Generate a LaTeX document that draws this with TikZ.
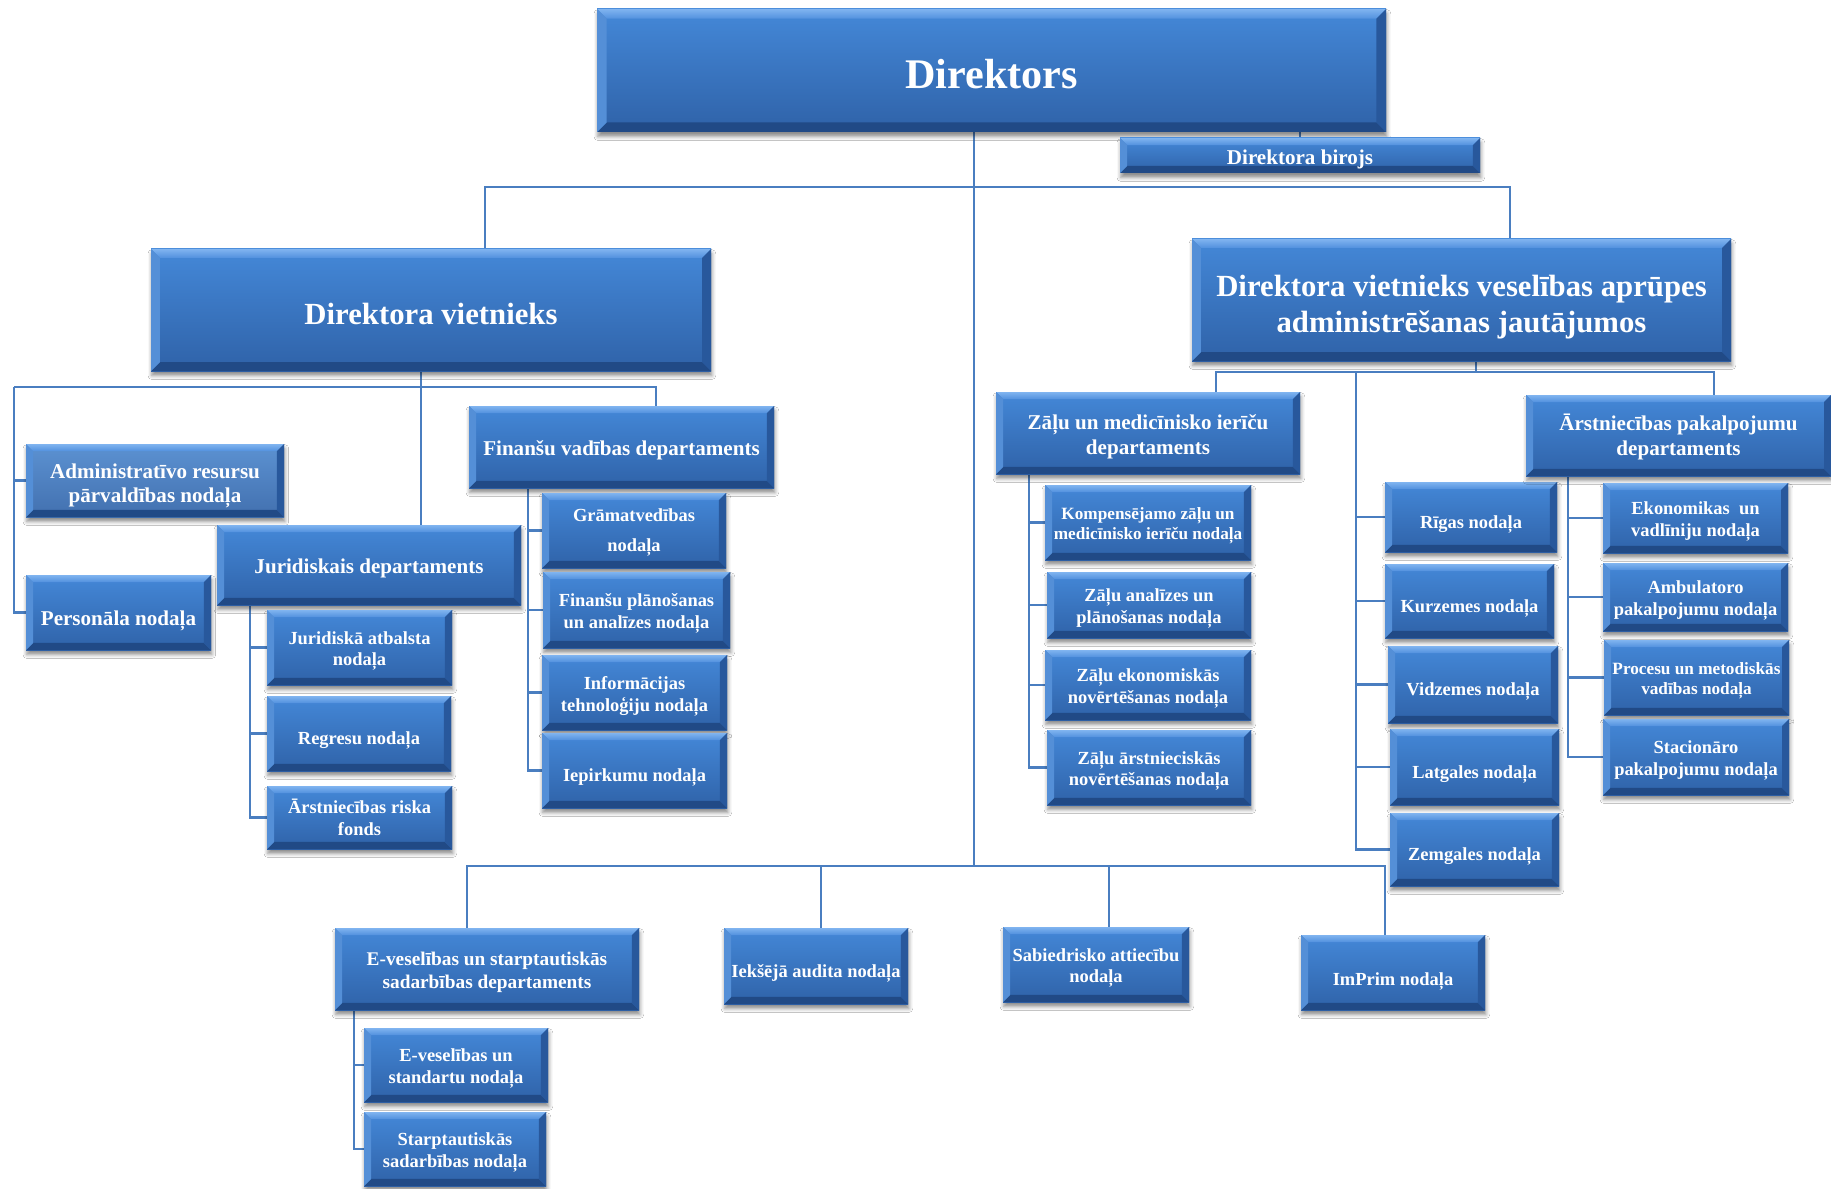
\documentclass[tikz,border=0pt]{standalone}
\usepackage{fontspec}
\setmainfont{Liberation Serif}
\usetikzlibrary{shadows.blur,backgrounds}
\definecolor{bxT}{RGB}{68,136,216}
\definecolor{bxB}{RGB}{47,98,168}
\definecolor{bxLT}{RGB}{92,146,210}
\definecolor{bxLB}{RGB}{66,112,175}
\definecolor{bvT1}{RGB}{128,180,240}
\definecolor{bvT2}{RGB}{82,145,222}
\definecolor{bvL}{RGB}{84,143,215}
\definecolor{bvR}{RGB}{40,88,156}
\definecolor{bvB}{RGB}{33,74,134}
\definecolor{ln}{RGB}{74,126,192}
\def\bw{4pt}
\newcommand\bevl[1]{%
  \shade[top color=bvT1,bottom color=bvT2] (#1.north west) -- (#1.north east) -- ([xshift=-\bw,yshift=-\bw]#1.north east) -- ([xshift=\bw,yshift=-\bw]#1.north west) -- cycle;
  \fill[bvB] (#1.south west) -- (#1.south east) -- ([xshift=-\bw,yshift=\bw]#1.south east) -- ([xshift=\bw,yshift=\bw]#1.south west) -- cycle;
  \fill[bvL] (#1.north west) -- (#1.south west) -- ([xshift=\bw,yshift=\bw]#1.south west) -- ([xshift=\bw,yshift=-\bw]#1.north west) -- cycle;
  \fill[bvR] (#1.north east) -- (#1.south east) -- ([xshift=-\bw,yshift=\bw]#1.south east) -- ([xshift=-\bw,yshift=-\bw]#1.north east) -- cycle;
}
% name x1 y1 x2 y2 boxopts textopts text
\newcommand\bxn[8]{%
  \node[bx,#6,minimum width={(#4-#2)*0.02cm},minimum height={(#5-#3)*0.02cm}] (#1) at ({(#2+#4)/2},{(#3+#5)/2}) {};
  \bevl{#1}
  \node[txt,#7] (#1-t) at (#1.center) {#8};}
\tikzset{
  bx/.style={rectangle,draw=none,top color=bxT,bottom color=bxB,inner sep=0pt,outer sep=0pt,
    blur shadow={shadow xshift=0.5pt,shadow yshift=-2.6pt,shadow blur radius=2.2pt,shadow opacity=45}},
  lite/.style={top color=bxLT,bottom color=bxLB},
  txt/.style={text=white,align=center,inner sep=0pt,yshift=-2pt},
  lo/.style={yshift=-2pt},
  fA/.style={font=\fontsize{24}{29}\selectfont\bfseries},
  fB/.style={font=\fontsize{17.5}{20.5}\selectfont\bfseries},
  fC/.style={font=\fontsize{12}{14}\selectfont\bfseries},
  fD/.style={font=\fontsize{10.5}{12.4}\selectfont\bfseries},
  fE/.style={font=\fontsize{9.8}{11.6}\selectfont\bfseries},
  fF/.style={font=\fontsize{11}{13}\selectfont\bfseries},
  cn/.style={draw=ln,line width=1.2pt},
}
\begin{document}
\begin{tikzpicture}[x=0.02cm,y=-0.02cm]
\useasboundingbox (0,0) rectangle (1831,1189);
% top
\def\bw{5.5pt}
\bxn{dir}{597}{9}{1386}{132}{}{fA}{Direktors}
\def\bw{4pt}
\bxn{biro}{1120}{138}{1480}{173}{}{fC}{Direktora birojs}
\def\bw{5pt}
\bxn{vl}{151}{249}{711}{371}{}{fB}{Direktora vietnieks}
\bxn{vr}{1192}{239}{1731}{361}{}{fB,lo}{Direktora vietnieks veselības aprūpes\\administrēšanas jautājumos}
\def\bw{4pt}
% left deputy
\bxn{adm}{26}{444}{284}{517}{lite}{fC,yshift=-1pt}{Administratīvo resursu\\pārvaldības nodaļa}
\bxn{pers}{26}{575}{211}{650}{}{fC,lo,yshift=-1pt}{Personāla nodaļa}
\bxn{jur}{217}{525}{521}{605}{}{fC}{Juridiskais departaments}
\bxn{jur1}{267}{610}{452}{685}{}{fD}{Juridiskā atbalsta\\nodaļa}
\bxn{jur2}{267}{696}{451}{771}{}{fD,lo}{Regresu nodaļa}
\bxn{jur3}{267}{786}{452}{849}{}{fD,yshift=2pt}{Ārstniecības riska\\fonds}
\bxn{fin}{469}{406}{774}{488}{}{fC}{Finanšu vadības departaments}
\bxn{fin1}{542}{493}{726}{568}{}{fD,yshift=1pt}{Grāmatvedības\\[4.5pt]nodaļa}
\bxn{fin2}{543}{572}{730}{648}{}{fD}{Finanšu plānošanas\\un analīzes nodaļa}
\bxn{fin3}{542}{655}{727}{730}{}{fD}{Informācijas\\tehnoloģiju nodaļa}
\bxn{fin4}{542}{733}{727}{808}{}{fD,lo}{Iepirkumu nodaļa}
% right deputy
\bxn{zal}{996}{392}{1300}{474}{}{fC}{Zāļu un medicīnisko ierīču\\departaments}
\bxn{zal1}{1045}{485}{1251}{560}{}{fE}{Kompensējamo zāļu un\\medicīnisko ierīču nodaļa}
\bxn{zal2}{1047}{572}{1251}{638}{}{fD}{Zāļu analīzes un\\plānošanas nodaļa}
\bxn{zal3}{1045}{650}{1251}{720}{}{fD}{Zāļu ekonomiskās\\novērtēšanas nodaļa}
\bxn{zal4}{1047}{730}{1251}{805}{}{fD}{Zāļu ārstnieciskās\\novērtēšanas nodaļa}
\bxn{reg1}{1385}{482}{1557}{552}{}{fD,lo}{Rīgas nodaļa}
\bxn{reg2}{1385}{564}{1554}{638}{}{fD,lo}{Kurzemes nodaļa}
\bxn{reg3}{1388}{646}{1558}{723}{}{fD,lo}{Vidzemes nodaļa}
\bxn{reg4}{1390}{729}{1559}{805}{}{fD,lo}{Latgales nodaļa}
\bxn{reg5}{1390}{813}{1559}{886}{}{fD,lo}{Zemgales nodaļa}
\bxn{ars}{1526}{395}{1831}{476}{}{fC,yshift=1pt}{Ārstniecības pakalpojumu\\departaments}
\bxn{ars1}{1603}{483}{1788}{553}{}{fD}{Ekonomikas\ \ un\\vadlīniju nodaļa}
\bxn{ars2}{1603}{563}{1788}{631}{}{fD}{Ambulatoro\\pakalpojumu nodaļa}
\bxn{ars3}{1604}{640}{1789}{715}{}{fE}{Procesu un metodiskās\\vadības nodaļa}
\bxn{ars4}{1603}{719}{1789}{795}{}{fD}{Stacionāro\\pakalpojumu nodaļa}
% bottom
\bxn{ev}{335}{928}{639}{1010}{}{fF}{E-veselības un starptautiskās\\sadarbības departaments}
\bxn{iek}{724}{928}{908}{1004}{}{fD,lo}{Iekšējā audita nodaļa}
\bxn{sab}{1003}{927}{1189}{1002}{}{fD}{Sabiedrisko attiecību\\nodaļa}
\bxn{imp}{1301}{935}{1485}{1010}{}{fD,lo,yshift=-1pt}{ImPrim nodaļa}
\bxn{ev1}{364}{1028}{548}{1102}{}{fD}{E-veselības un\\standartu nodaļa}
\bxn{ev2}{364}{1112}{546}{1186}{}{fD}{Starptautiskās\\sadarbības nodaļa}

\begin{pgfonlayer}{background}
\fill[white] (0,0) rectangle (1831,1189);
% junction coordinates
\coordinate (hL) at (485,187);
\coordinate (hR) at (1510,187);
\coordinate (dv) at (974,866);
\coordinate (lh1) at (14,387);
\coordinate (lh2) at (656,387);
\coordinate (lj) at (421,387);
\coordinate (jx) at (250,600);
\coordinate (fx) at (528,482);
\coordinate (rh1) at (1216,372);
\coordinate (rh2) at (1714,372);
\coordinate (rj) at (1476,372);
\coordinate (rx) at (1356,372);
\coordinate (zx) at (1029,468);
\coordinate (ax) at (1568,470);
\coordinate (bh1) at (467,866);
\coordinate (bh2) at (1385,866);
\coordinate (bi) at (821,866);
\coordinate (bs) at (1109,866);
\coordinate (ex) at (354,1004);
% director
\draw[cn] (dir.south -| dv) -- (dv);
\draw[cn] (hL |- vl.north) -- (hL) -- (hR) -- (hR |- vr.north);
\draw[cn] (biro.north |- dir.south) -- (biro.north);
% left deputy
\draw[cn] (lj |- vl.south) -- (lj) -- (lj |- jur.north);
\draw[cn] (lh1) -- (lh2) -- (lh2 |- fin.north);
\draw[cn] (lh1) -- (lh1 |- pers.west) -- (pers.west);
\draw[cn] (lh1 |- adm.west) -- (adm.west);
\draw[cn] (jx) -- (jx |- jur3.west) -- (jur3.west);
\draw[cn] (jx |- jur1.west) -- (jur1.west);
\draw[cn] (jx |- jur2.west) -- (jur2.west);
\draw[cn] (fx) -- (fx |- fin4.west) -- (fin4.west);
\draw[cn] (fx |- fin1.west) -- (fin1.west);
\draw[cn] (fx |- fin2.west) -- (fin2.west);
\draw[cn] (fx |- fin3.west) -- (fin3.west);
% right deputy
\draw[cn] (rj |- vr.south) -- (rj);
\draw[cn] (rh1 |- zal.north) -- (rh1) -- (rh2) -- (rh2 |- ars.north);
\draw[cn] (rx) -- (rx |- reg5.west) -- (reg5.west);
\draw[cn] (rx |- reg1.west) -- (reg1.west);
\draw[cn] (rx |- reg2.west) -- (reg2.west);
\draw[cn] (rx |- reg3.west) -- (reg3.west);
\draw[cn] (rx |- reg4.west) -- (reg4.west);
\draw[cn] (zx) -- (zx |- zal4.west) -- (zal4.west);
\draw[cn] (zx |- zal1.west) -- (zal1.west);
\draw[cn] (zx |- zal2.west) -- (zal2.west);
\draw[cn] (zx |- zal3.west) -- (zal3.west);
\draw[cn] (ax) -- (ax |- ars4.west) -- (ars4.west);
\draw[cn] (ax |- ars1.west) -- (ars1.west);
\draw[cn] (ax |- ars2.west) -- (ars2.west);
\draw[cn] (ax |- ars3.west) -- (ars3.west);
% bottom
\draw[cn] (bh1 |- ev.north) -- (bh1) -- (bh2) -- (bh2 |- imp.north);
\draw[cn] (bi) -- (bi |- iek.north);
\draw[cn] (bs) -- (bs |- sab.north);
\draw[cn] (ex) -- (ex |- ev2.west) -- (ev2.west);
\draw[cn] (ex |- ev1.west) -- (ev1.west);
\end{pgfonlayer}
\end{tikzpicture}
\end{document}
